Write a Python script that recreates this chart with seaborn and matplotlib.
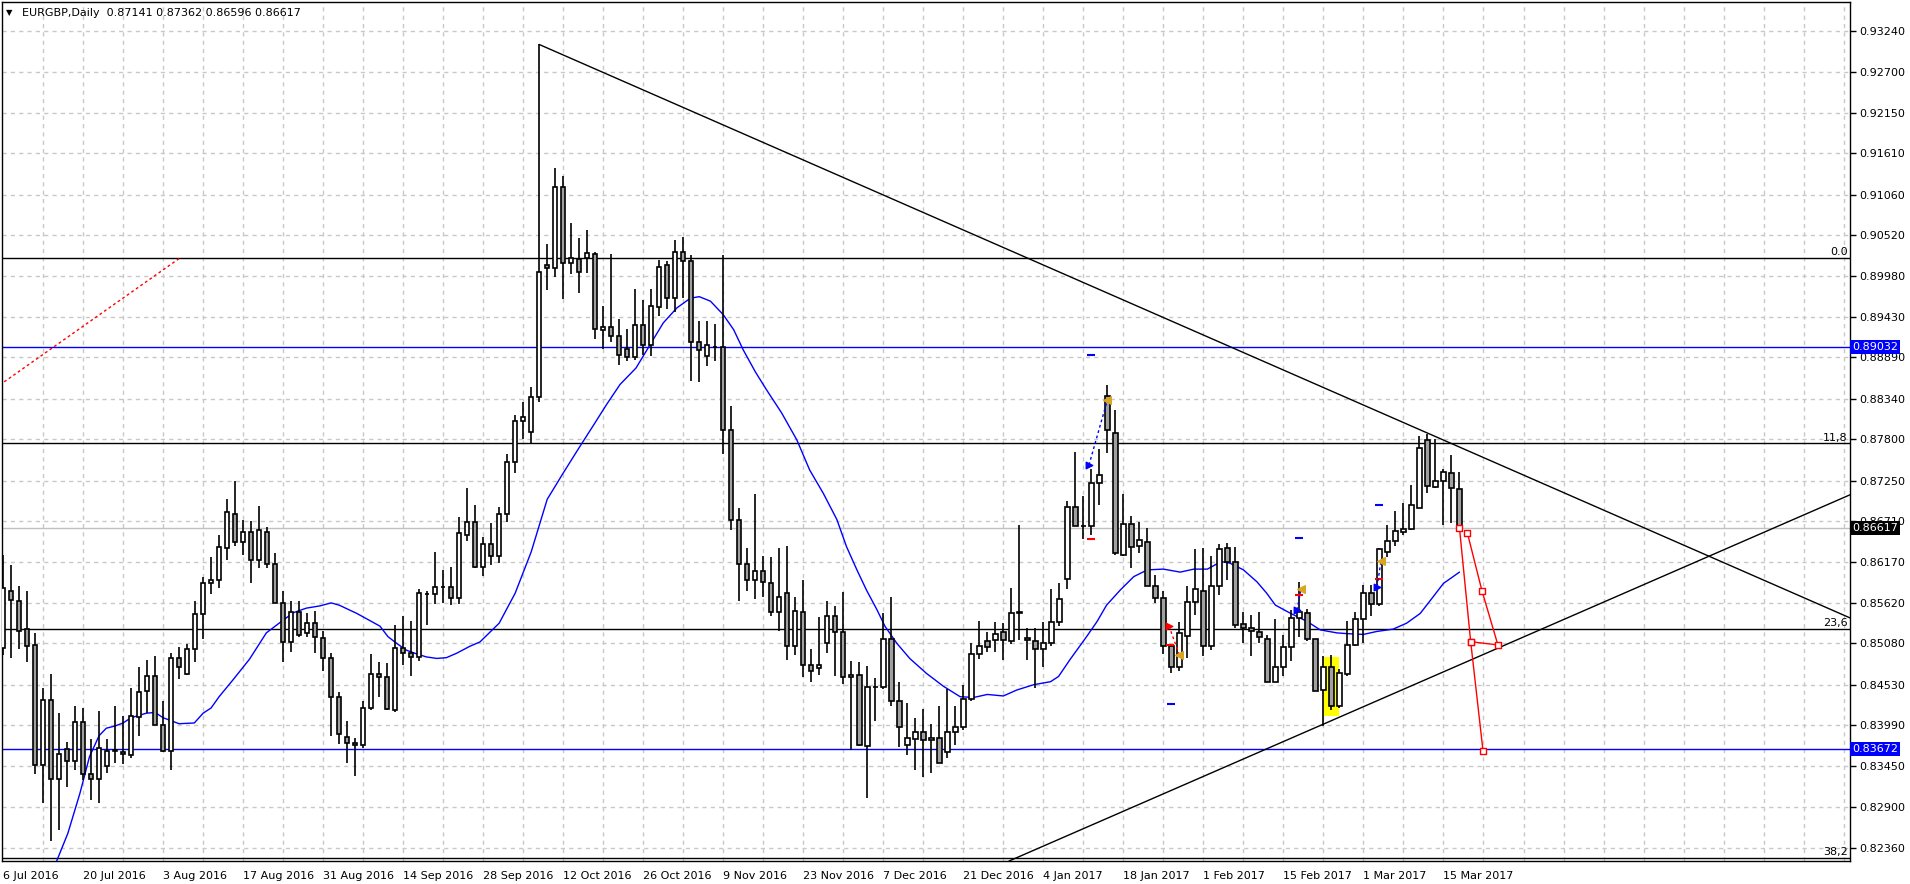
import numpy as np
import pandas as pd
import matplotlib
matplotlib.use("Agg")
import matplotlib.pyplot as plt
from matplotlib.patches import Rectangle
import seaborn as sns

# ---------------- data ----------------
opens = [0.8502,0.8578,0.8565,0.8527,0.8506,0.8346,0.8432,0.8328,0.8367,0.8352,
         0.8403,0.8334,0.8327,0.8345,0.8365,0.8363,0.8359,0.8410,0.8444,0.8465,
         0.8399,0.8365,0.8488,0.8467,0.8500,0.8547,0.8588,0.8593,0.8635,0.8681,
         0.8643,0.8657,0.8619,0.8657,0.8614,0.8562,0.8510,0.8550,0.8522,0.8535,
         0.8515,0.8488,0.8436,0.8383,0.8375,0.8372,0.8422,0.8467,0.8463,0.8419,
         0.8502,0.8495,0.8490,0.8574,0.8574,0.8583,0.8583,0.8568,0.8652,0.8670,
         0.8610,0.8640,0.8625,0.8680,0.8750,0.8805,0.8790,0.8836,0.9012,0.9008,
         0.9116,0.9015,0.9020,0.9021,0.9027,0.8925,0.8929,0.8917,0.8900,0.8889,
         0.8932,0.8905,0.8956,0.9012,0.8968,0.9029,0.9018,0.8909,0.8891,0.8903,
         0.8903,0.8792,0.8673,0.8614,0.8593,0.8604,0.8588,0.8550,0.8575,0.8504,
         0.8550,0.8479,0.8475,0.8508,0.8545,0.8523,0.8463,0.8466,0.8371,0.8450,
         0.8450,0.8514,0.8431,0.8372,0.8381,0.8390,0.8379,0.8382,0.8363,0.8390,
         0.8396,0.8434,0.8494,0.8511,0.8513,0.8523,0.8511,0.8549,0.8515,0.8511,
         0.8500,0.8508,0.8537,0.8594,0.8690,0.8664,0.8664,0.8722,0.8837,0.8788,
         0.8626,0.8667,0.8638,0.8643,0.8585,0.8568,0.8505,0.8476,0.8518,0.8563,
         0.8578,0.8504,0.8585,0.8635,0.8617,0.8534,0.8528,0.8523,0.8514,0.8457,
         0.8476,0.8503,0.8542,0.8548,0.8514,0.8446,0.8477,0.8424,0.8467,0.8506,
         0.8540,0.8575,0.8561,0.8630,0.8645,0.8657,0.8661,0.8689,0.8779,0.8717,
         0.8725,0.8735,0.87141]
highs = [0.8626,0.8613,0.8585,0.8578,0.8522,0.8449,0.8467,0.8415,0.8376,0.8425,
         0.8422,0.8381,0.8418,0.8381,0.8425,0.8411,0.8449,0.8477,0.8486,0.8491,
         0.8431,0.8495,0.8503,0.8507,0.8565,0.8597,0.8623,0.8652,0.8701,0.8724,
         0.8673,0.8671,0.8691,0.8663,0.8628,0.8578,0.8565,0.8565,0.8548,0.8551,
         0.8525,0.8495,0.8443,0.8405,0.8382,0.8431,0.8494,0.8483,0.8482,0.8533,
         0.8544,0.8538,0.8580,0.8578,0.8630,0.8606,0.8610,0.8677,0.8715,0.8693,
         0.8650,0.8668,0.8690,0.8760,0.8812,0.8830,0.8850,0.9306,0.9040,0.9142,
         0.9131,0.9068,0.9048,0.9059,0.9030,0.8958,0.9027,0.8940,0.8927,0.8980,
         0.8966,0.8980,0.9019,0.9017,0.9046,0.9050,0.9025,0.8938,0.8937,0.8934,
         0.9025,0.8824,0.8689,0.8635,0.8707,0.8625,0.8623,0.8635,0.8638,0.8570,
         0.8593,0.8500,0.8543,0.8565,0.8558,0.8576,0.8484,0.8483,0.8478,0.8462,
         0.8548,0.8570,0.8457,0.8428,0.8409,0.8420,0.8400,0.8425,0.8447,0.8425,
         0.8453,0.8508,0.8538,0.8523,0.8537,0.8535,0.8582,0.8666,0.8528,0.8528,
         0.8536,0.8581,0.8588,0.8698,0.8763,0.8705,0.8741,0.8767,0.8852,0.8819,
         0.8707,0.8678,0.8670,0.8662,0.8599,0.8578,0.8505,0.8536,0.8584,0.8634,
         0.8635,0.8624,0.8640,0.8642,0.8637,0.8550,0.8546,0.8550,0.8519,0.8540,
         0.8519,0.8553,0.8590,0.8554,0.8514,0.8491,0.8493,0.8474,0.8538,0.8550,
         0.8586,0.8586,0.8635,0.8666,0.8684,0.8695,0.8719,0.8784,0.8787,0.8781,
         0.8740,0.8759,0.87362]
lows = [0.8493,0.8488,0.8501,0.8483,0.8334,0.8296,0.8245,0.8259,0.8317,0.8340,
        0.8326,0.8300,0.8296,0.8335,0.8349,0.8347,0.8355,0.8384,0.8415,0.8399,
        0.8363,0.8340,0.8461,0.8466,0.8483,0.8514,0.8574,0.8582,0.8619,0.8638,
        0.8626,0.8589,0.8608,0.8608,0.8562,0.8483,0.8497,0.8516,0.8516,0.8495,
        0.8471,0.8385,0.8374,0.8349,0.8331,0.8369,0.8419,0.8437,0.8419,0.8417,
        0.8479,0.8465,0.8484,0.8533,0.8561,0.8562,0.8559,0.8561,0.8645,0.8608,
        0.8598,0.8612,0.8615,0.8670,0.8735,0.8780,0.8775,0.8829,0.8979,0.8996,
        0.8967,0.9000,0.8975,0.9001,0.8913,0.8900,0.8909,0.8879,0.8884,0.8886,
        0.8892,0.8891,0.8944,0.8953,0.8950,0.8968,0.8858,0.8856,0.8878,0.8884,
        0.8761,0.8659,0.8565,0.8578,0.8567,0.8570,0.8545,0.8524,0.8486,0.8493,
        0.8463,0.8457,0.8466,0.8495,0.8464,0.8454,0.8366,0.8371,0.8302,0.8404,
        0.8447,0.8424,0.8370,0.8359,0.8339,0.8330,0.8336,0.8349,0.8355,0.8372,
        0.8393,0.8431,0.8487,0.8497,0.8497,0.8486,0.8507,0.8513,0.8486,0.8448,
        0.8477,0.8504,0.8531,0.8581,0.8664,0.8647,0.8653,0.8692,0.8762,0.8626,
        0.8624,0.8608,0.8628,0.8584,0.8562,0.8494,0.8468,0.8471,0.8488,0.8546,
        0.8491,0.8499,0.8572,0.8593,0.8529,0.8508,0.8491,0.8508,0.8456,0.8456,
        0.8464,0.8484,0.8517,0.8511,0.8444,0.8398,0.8419,0.8422,0.8464,0.8504,
        0.8508,0.8545,0.8558,0.8623,0.8638,0.8653,0.8659,0.8688,0.8708,0.8715,
        0.8666,0.8668,0.86596]
closes = [0.8582,0.8566,0.8524,0.8504,0.8346,0.8432,0.8328,0.8360,0.8352,0.8403,
          0.8334,0.8327,0.8369,0.8365,0.8366,0.8360,0.8411,0.8443,0.8465,0.8399,
          0.8364,0.8488,0.8477,0.8500,0.8547,0.8588,0.8593,0.8636,0.8683,0.8643,
          0.8657,0.8619,0.8659,0.8614,0.8562,0.8510,0.8550,0.8519,0.8535,0.8516,
          0.8488,0.8436,0.8387,0.8375,0.8372,0.8422,0.8467,0.8463,0.8420,0.8502,
          0.8495,0.8490,0.8575,0.8574,0.8583,0.8583,0.8568,0.8655,0.8670,0.8610,
          0.8640,0.8625,0.8680,0.8750,0.8805,0.8810,0.8836,0.9003,0.9008,0.9116,
          0.9015,0.9021,0.9003,0.9028,0.8927,0.8929,0.8917,0.8892,0.8890,0.8932,
          0.8905,0.8958,0.9009,0.8968,0.9029,0.9018,0.8909,0.8899,0.8905,0.8903,
          0.8792,0.8673,0.8614,0.8593,0.8604,0.8590,0.8550,0.8570,0.8504,0.8551,
          0.8479,0.8471,0.8479,0.8545,0.8523,0.8463,0.8466,0.8373,0.8450,0.8450,
          0.8514,0.8431,0.8396,0.8382,0.8390,0.8379,0.8382,0.8349,0.8390,0.8396,
          0.8434,0.8494,0.8504,0.8503,0.8520,0.8512,0.8548,0.8550,0.8512,0.8500,
          0.8509,0.8536,0.8567,0.8690,0.8664,0.8665,0.8722,0.8733,0.8793,0.8628,
          0.8667,0.8637,0.8646,0.8585,0.8568,0.8504,0.8476,0.8522,0.8563,0.8580,
          0.8504,0.8585,0.8634,0.8617,0.8532,0.8529,0.8524,0.8516,0.8457,0.8477,
          0.8503,0.8542,0.8550,0.8514,0.8445,0.8476,0.8424,0.8469,0.8506,0.8540,
          0.8575,0.8561,0.8634,0.8645,0.8658,0.8660,0.8693,0.8769,0.8718,0.8725,
          0.8736,0.8715,0.86617]

date_labels = ["6 Jul 2016", "20 Jul 2016", "3 Aug 2016", "17 Aug 2016", "31 Aug 2016",
               "14 Sep 2016", "28 Sep 2016", "12 Oct 2016", "26 Oct 2016", "9 Nov 2016",
               "23 Nov 2016", "7 Dec 2016", "21 Dec 2016", "4 Jan 2017", "18 Jan 2017",
               "1 Feb 2017", "15 Feb 2017", "1 Mar 2017", "15 Mar 2017"]
price_ticks = [0.93240, 0.92700, 0.92150, 0.91610, 0.91060, 0.90520, 0.89980, 0.89430,
               0.88890, 0.88340, 0.87800, 0.87250, 0.86710, 0.86170, 0.85620, 0.85080,
               0.84530, 0.83990, 0.83450, 0.82900, 0.82360]

# moving average (bar position, price)
ma_bar = [6.7, 8.1, 9.6, 10.8, 12.0, 12.9, 14, 15, 16, 17.9, 19, 20, 21, 22, 23.9, 25, 26, 27,
          28.7, 30.8, 32.9, 35, 36.3, 37.9, 39.6, 41, 42, 44.2, 46.25, 47.1, 48.1, 49.2,
          50.4, 51.7, 52.9, 54.2, 55.4, 56.7, 58.3, 59.6, 62, 64, 66, 68, 70, 72, 73.8, 75.4,
          77.1, 79.1, 80.8, 82.5, 84.2, 85.9, 87.0, 88.4, 90.0, 91.3, 92.5, 94, 95.4, 97.3,
          99.2, 100.8, 102.5, 104.2, 105.4, 106.7, 107.9, 109.2, 110.2, 111.7, 113.3, 115.4,
          117.5, 119.6, 121.3, 123, 125, 126.7, 128.8, 130.9, 131.9, 133.3, 135.4, 136.7,
          137.9, 139.6, 141.3, 143, 145, 147.1, 148.8, 150.5, 152.2, 153.3, 155, 156.7,
          157.9, 159, 160.9, 163, 164.6, 166.7, 168, 170, 171.7, 173.7, 175.4, 177.1,
          178.7, 180, 182]
ma_val = [0.8218, 0.8255, 0.8308, 0.8357, 0.8385, 0.8395, 0.8398, 0.8402, 0.8409, 0.8415,
          0.8416, 0.8409, 0.8405, 0.8401, 0.8402, 0.8415, 0.8422, 0.8437, 0.8459, 0.8487,
          0.8522, 0.8539, 0.8549, 0.8555, 0.8558, 0.8562, 0.8559, 0.8548, 0.8536, 0.8531,
          0.8517, 0.8508, 0.8499, 0.8494, 0.8490, 0.8488, 0.8489, 0.8495, 0.8504, 0.8510,
          0.8535, 0.8575, 0.8630, 0.8700, 0.8735, 0.8769, 0.8799, 0.8826, 0.8853, 0.8875,
          0.8905, 0.8935, 0.8955, 0.8968, 0.8970, 0.8964, 0.8946, 0.8926, 0.8899, 0.8870,
          0.8846, 0.8815, 0.8779, 0.8739, 0.8708, 0.8673, 0.8637, 0.8606, 0.8579, 0.8553,
          0.8531, 0.8508, 0.8488, 0.8468, 0.8451, 0.8437, 0.8436, 0.8440, 0.8438, 0.8446,
          0.8453, 0.8457, 0.8464, 0.8486, 0.8517, 0.8537, 0.8559, 0.8579, 0.8597, 0.8606,
          0.8607, 0.8603, 0.8607, 0.8607, 0.8617, 0.8615, 0.8606, 0.8590, 0.8575, 0.8559,
          0.8548, 0.8537, 0.8526, 0.8522, 0.8521, 0.8520, 0.8524, 0.8527, 0.8535, 0.8548,
          0.8570, 0.8588, 0.8603]

# drawing objects
desc_bar, desc_px = [67, 230.8], [0.9306, 0.8542]
asc_bar, asc_px = [125.7, 230.8], [0.8218, 0.8706]
fib_levels = [0.90215, 0.87745, 0.85275, 0.82220]
fib_names = ["0.0", "11,8", "23,6", "38,2"]
fib_diag_bar, fib_diag_px = [-0.42, 22.1], [0.88523, 0.90215]
blue_levels = [0.89032, 0.83672]
last_price = 0.86617
proj_a_bar, proj_a_px = [182, 183.4, 184.95], [0.86617, 0.85103, 0.83640]
proj_b_bar, proj_b_px = [183, 184.8, 186.8, 183.4], [0.86547, 0.85785, 0.85060, 0.85103]
yellow_bars, yellow_px = [165, 167], [0.8411, 0.8490]
tp_bar, tp_px = [136, 162, 172], [0.88923, 0.86480, 0.86924]
sl_bar, sl_px = [136, 145.8, 162, 172], [0.86471, 0.8506, 0.85725, 0.85934]
buy_dash_bar, buy_dash_px = [146], [0.84269]
buy_open_bar, buy_open_px = [135.7, 161.7, 171.7], [0.87457, 0.85525, 0.85836]
buy_close_bar, buy_close_px = [138, 162.2, 172.2], [0.88323, 0.85801, 0.86182]
sell_open_bar, sell_open_px = [145.7], [0.85312]
sell_close_bar, sell_close_px = [147], [0.84926]

# ---------------- figure ----------------
sns.set_theme(style="white")
plt.rcParams['font.family'] = ['DejaVu Sans']
W, H = 1910, 884
fig = plt.figure(figsize=(W / 100, H / 100), dpi=100)
fig.patch.set_facecolor("white")
left, right, top, bottom = 2, 1850, 2, 861
ax = fig.add_axes([left / W, 1 - bottom / H, (right - left) / W, (bottom - top) / H])
ax.set_facecolor("white")
ax.set_xlim(-0.13, 230.8)
ax.set_ylim(0.82181, 0.93626)

grid_kw = dict(color="#c8c8c8", lw=1, dashes=(3, 3))
for gx in np.arange(5, 231, 5):
    ax.axvline(gx, zorder=0, **grid_kw)
for gy in price_ticks:
    ax.axhline(gy, zorder=0, **grid_kw)

# yellow box
ax.add_patch(Rectangle((yellow_bars[0], yellow_px[0]), yellow_bars[1] - yellow_bars[0],
                       yellow_px[1] - yellow_px[0], facecolor="#ffff00", edgecolor="none", zorder=1))

# horizontal levels
ax.axhline(last_price, color="#c0c0c0", lw=1, zorder=1)
for lv in fib_levels:
    ax.axhline(lv, color="black", lw=1, zorder=2)
for lv in blue_levels:
    ax.axhline(lv, color="#0000ff", lw=1, zorder=2)
ax.plot(fib_diag_bar, fib_diag_px, color="red", lw=1, ls=(0, (2, 2)), zorder=2)

# trend lines
sns.lineplot(x=desc_bar, y=desc_px, ax=ax, color="black", lw=1, zorder=3)
sns.lineplot(x=asc_bar, y=asc_px, ax=ax, color="black", lw=1, zorder=3)

# moving average
ma_df = pd.DataFrame({"bar": ma_bar, "ma": ma_val})
sns.lineplot(data=ma_df, x="bar", y="ma", ax=ax, color="#0000ff", lw=1, zorder=4, sort=False)

# candles
df = pd.DataFrame({"o": opens, "h": highs, "l": lows, "c": closes})
df["x"] = np.arange(len(df))
ax.vlines(df["x"], df["l"], df["h"], color="black", lw=1.2, zorder=5)
bull = df["c"] >= df["o"]
bottoms = np.minimum(df["o"], df["c"])
heights = np.abs(df["c"] - df["o"])
ax.bar(df["x"], heights, bottom=bottoms, width=0.55,
       color=np.where(bull, "white", "#a0a0a0"), edgecolor="black", lw=1.2, zorder=6)

# trade markers
ax.scatter(tp_bar, tp_px, marker="_", s=40, color="#0000ff", lw=1.5, zorder=7)
ax.scatter(buy_dash_bar, buy_dash_px, marker="_", s=40, color="#0000ff", lw=1.5, zorder=7)
ax.scatter(sl_bar, sl_px, marker="_", s=40, color="red", lw=1.5, zorder=7)
for xb, yb, xe, ye in zip(buy_open_bar, buy_open_px, buy_close_bar, buy_close_px):
    ax.plot([xb, xe], [yb, ye], color="#0000ff", lw=1, ls=(0, (2, 2)), zorder=7)
for xb, yb, xe, ye in zip(sell_open_bar, sell_open_px, sell_close_bar, sell_close_px):
    ax.plot([xb, xe], [yb, ye], color="red", lw=1, ls=(0, (2, 2)), zorder=7)
ax.scatter(buy_open_bar, buy_open_px, marker=">", s=22, color="#0000ff", zorder=8)
ax.scatter(sell_open_bar, sell_open_px, marker=">", s=22, color="red", zorder=8)
ax.scatter(buy_close_bar + sell_close_bar, buy_close_px + sell_close_px, marker="<", s=30,
           color="#daa520", zorder=8)

# red projection
ax.plot(proj_a_bar, proj_a_px, color="red", lw=1, zorder=8)
ax.plot(proj_b_bar, proj_b_px, color="red", lw=1, zorder=8)
ax.scatter(proj_a_bar + proj_b_bar, proj_a_px + proj_b_px, marker="s", s=14,
           facecolor="white", edgecolor="red", lw=1, zorder=9)

# axes styling
for sp in ax.spines.values():
    sp.set_color("black")
    sp.set_linewidth(1)
ax.yaxis.tick_right()
ax.set_yticks(price_ticks)
ax.set_yticklabels([f"{v:.5f}" for v in price_ticks], fontsize=8)
ax.tick_params(axis="y", direction="out", length=4, width=1, color="black", pad=3, labelcolor="black")
ax.set_xticks(np.arange(0, 181, 10))
ax.set_xticklabels(date_labels, fontsize=8, ha="left")
ax.tick_params(axis="x", direction="out", length=5, width=1, color="black", pad=2, labelcolor="black")
for lab in ax.get_xticklabels():
    lab.set_horizontalalignment("left")
ax.set_xlabel("")
ax.set_ylabel("")
ax.grid(False)

# fib labels
ytr = ax.get_yaxis_transform()
for lv, nm in zip(fib_levels, fib_names):
    ax.text(0.9988, lv + 0.0001, nm, transform=ytr, ha="right", va="bottom", fontsize=8,
            color="black", zorder=10)

# axis price boxes
for lv, fc in [(blue_levels[0], "#0000ff"), (last_price, "black"), (blue_levels[1], "#0000ff")]:
    ax.text(1.0012, lv, f"{lv:.5f}", transform=ytr, ha="left", va="center", fontsize=8,
            color="white", zorder=20, clip_on=False,
            bbox=dict(boxstyle="square,pad=0.18", facecolor=fc, edgecolor="none"))

# header
fig.text(6 / W, 1 - 13 / H, "▼", fontsize=6, ha="left", va="center", color="black")
fig.text(22 / W, 1 - 13 / H, "EURGBP,Daily  0.87141 0.87362 0.86596 0.86617", fontsize=8,
         ha="left", va="center", color="black")

fig.savefig("out.png", dpi=100, facecolor="white")
